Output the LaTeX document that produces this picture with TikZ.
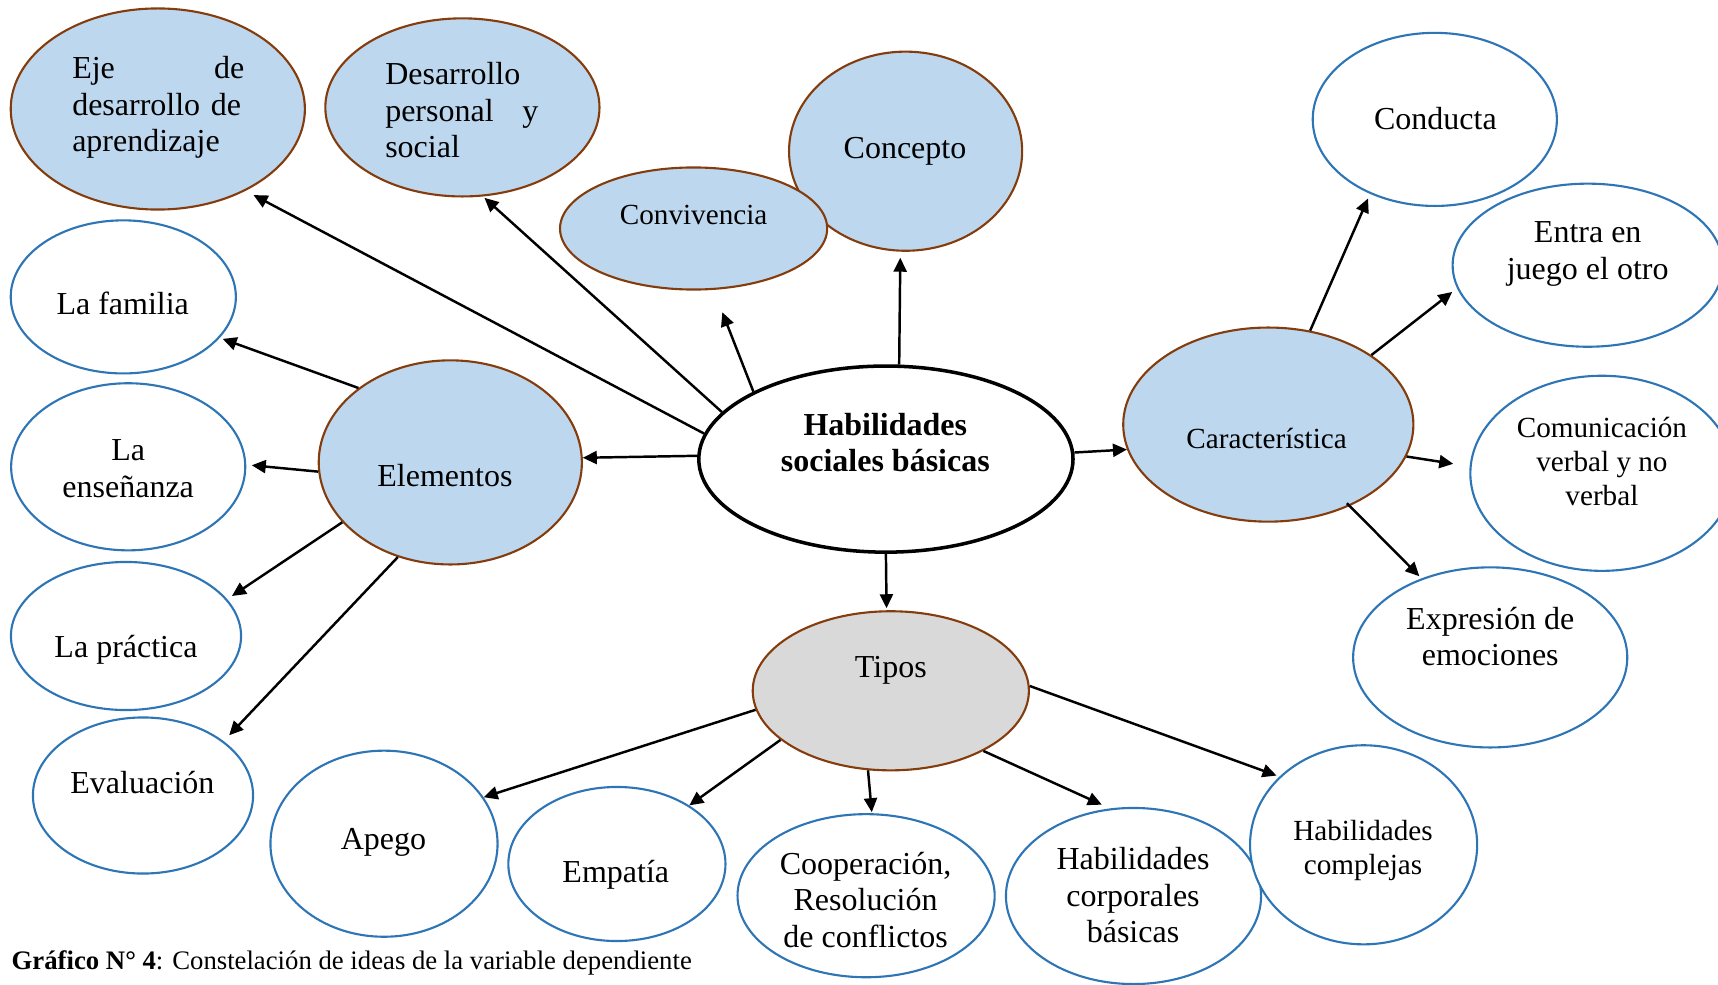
\documentclass[tikz,border=0pt]{standalone}
\usepackage{fontspec}
\setmainfont{Liberation Serif}
\usetikzlibrary{shapes.geometric,arrows.meta}
\definecolor{bluefill}{RGB}{189,215,238}
\definecolor{brownline}{RGB}{132,60,12}
\definecolor{blueline}{RGB}{46,117,182}
\definecolor{grayfill}{RGB}{217,217,217}
\newcommand\mainsize{\fontsize{9.1}{10.4}\selectfont}
\newcommand\smallsize{\fontsize{8.3}{9.6}\selectfont}
\newcommand\capsize{\fontsize{7.6}{8.8}\selectfont}
\tikzset{
  bub/.style={ellipse, inner sep=0pt, line width=0.6pt},
  blue bub/.style={bub, draw=brownline, fill=bluefill},
  gray bub/.style={bub, draw=brownline, fill=grayfill},
  white bub/.style={bub, draw=blueline, fill=white},
  txt/.style={inner sep=0pt, align=center, font=\mainsize},
  arr/.style={-{Triangle[length=0.14cm,width=0.13cm]}, line width=0.7pt},
}
\begin{document}
\begin{tikzpicture}[x=0.01cm,y=-0.01cm]
 \useasboundingbox (0,0) rectangle (1718,985);
 \clip (0,0) rectangle (1718,985);
 % upper row
 \node[blue bub, minimum width=2.94cm, minimum height=2.01cm] (eje) at (157.8,109) {};
 \node[blue bub, minimum width=2.74cm, minimum height=1.78cm] (dps) at (462.4,107.4) {};
 \node[blue bub, minimum width=2.33cm, minimum height=1.99cm] (conc) at (905.6,151.2) {};
 \node[blue bub, minimum width=2.67cm, minimum height=1.22cm] (conv) at (693.6,228.5) {};
 \node[txt, text width=1.72cm, align=left] (eje-t) at (158.3,107.4) {Eje\hfill de\\desarrollo de\\aprendizaje};
 \node[txt, text width=1.53cm, align=left] (dps-t) at (461.8,110.1) {Desarrollo\\personal\hfill y\\social};
 \node[txt] (conc-t) at (905,151) {Concepto};
 \node[txt, font=\smallsize] (conv-t) at (693.6,214.8) {Convivencia};
 % right side
 \node[white bub, minimum width=2.44cm, minimum height=1.73cm] (cond) at (1434.8,119.4) {};
 \node[white bub, minimum width=2.70cm, minimum height=1.63cm] (entra) at (1587.7,265.2) {};
 \node[white bub, minimum width=2.63cm, minimum height=1.95cm] (comu) at (1601.9,473.3) {};
 \node[white bub, minimum width=2.74cm, minimum height=1.80cm] (expr) at (1490.2,657.4) {};
 \node[blue bub, minimum width=2.90cm, minimum height=1.94cm] (car) at (1268.3,424.6) {};
 \node[txt] (cond-t) at (1435.4,118.3) {Conducta};
 \node[txt] (entra-t) at (1587.7,254) {Entra en\\juego el otro};
 \node[txt, font=\smallsize] (comu-t) at (1601.9,461.3) {Comunicación\\verbal y no\\verbal};
 \node[txt] (expr-t) at (1490.2,636.6) {Expresión de\\emociones};
 \node[txt, font=\smallsize] (car-t) at (1266.6,438.3) {Característica};
 % centre
 \node[bub, draw=black, fill=white, line width=1pt, minimum width=3.74cm, minimum height=1.86cm] (hsb) at (885.9,459.1) {};
 \node[txt, font=\mainsize\bfseries] (hsb-t) at (885.3,442.7) {Habilidades\\sociales básicas};
 % left side
 \node[blue bub, minimum width=2.63cm, minimum height=2.04cm] (elem) at (450.3,462.4) {};
 \node[white bub, minimum width=2.25cm, minimum height=1.53cm] (fam) at (123.3,296.9) {};
 \node[white bub, minimum width=2.34cm, minimum height=1.67cm] (ens) at (128.2,466.8) {};
 \node[white bub, minimum width=2.30cm, minimum height=1.48cm] (prac) at (126,636) {};
 \node[white bub, minimum width=2.20cm, minimum height=1.56cm] (eval) at (143,795.5) {};
 \node[txt] (elem-t) at (444.9,475.5) {Elementos};
 \node[txt] (fam-t) at (122.7,303.5) {La familia};
 \node[txt] (ens-t) at (128.2,468.5) {La\\enseñanza};
 \node[txt] (prac-t) at (126,649.5) {La práctica};
 \node[txt] (eval-t) at (142.4,782.3) {Evaluación};
 % bottom row
 \node[gray bub, minimum width=2.76cm, minimum height=1.59cm] (tipos) at (890.8,690.8) {};
 \node[white bub, minimum width=2.27cm, minimum height=1.86cm] (apego) at (384,843.7) {};
 \node[white bub, minimum width=2.17cm, minimum height=1.54cm] (empat) at (616.9,864) {};
 \node[white bub, minimum width=2.57cm, minimum height=1.63cm] (coop) at (866.1,895.7) {};
 \node[white bub, minimum width=2.55cm, minimum height=1.76cm] (hcorp) at (1133.5,896) {};
 \node[white bub, minimum width=2.27cm, minimum height=1.99cm] (hcomp) at (1363.6,844.8) {};
 \node[txt] (tipos-t) at (890.8,670.5) {Tipos};
 \node[txt] (apego-t) at (383.5,842.5) {Apego};
 \node[txt] (empat-t) at (615.8,874.3) {Empatía};
 \node[txt] (coop-t) at (865.6,899.6) {Cooperación,\\Resolución\\de conflictos};
 \node[txt] (hcorp-t) at (1133,895.2) {Habilidades\\corporales\\básicas};
 \node[txt, font=\smallsize] (hcomp-t) at (1363,850.5) {Habilidades\\complejas};
 % arrows
 \draw[arr, shorten >=0.09cm] (hsb.172.6) -- (eje.-43.8);
 \draw[arr, shorten >=0.02cm] (hsb.164.3) -- (dps.-77.6);
 \draw[arr, shorten >=0.24cm] (hsb.153) -- (conv.-72.4);
 \draw[arr, shorten >=0.06cm] (hsb.82.3) -- (conc.-93.9);
 \draw[arr] (hsb.2.7) -- (car.190.3);
 \draw[arr] (hsb.179.7) -- (elem.2.5);
 \draw[arr, shorten >=0.02cm] (hsb.-90.4) -- (tipos.93.9);
 \draw[arr, shorten >=0.05cm] (car.66) -- (cond.229.1);
 \draw[arr, shorten >=0.06cm] (car.34.5) -- (entra.190.1);
 \draw[arr, shorten >=0.165cm] (car.-13.8) -- (comu.177.5);
 \draw[arr, shorten >=0.03cm, shorten <=-0.04cm] (car.-45.8) -- (expr.131.7);
 \draw[arr, shorten >=0.03cm] (elem.141.3) -- (fam.-23.8);
 \draw[arr, shorten >=0.055cm] (elem.184.3) -- (ens.1);
 \draw[arr, shorten >=0.057cm] (elem.209.2) -- (prac.20.2);
 \draw[arr, shorten >=0.08cm] (elem.241.9) -- (eval.34.9);
 \draw[arr] (tipos.188.3) -- (apego.25.6);
 \draw[arr] (tipos.204.5) -- (empat.39.4);
 \draw[arr, shorten >=0.01cm] (tipos.254.9) -- (coop.86.5);
 \draw[arr, shorten >=0.09cm] (tipos.-33.8) -- (hcorp.105.2);
 \draw[arr, shorten >=0.03cm] (tipos.2.5) -- (hcomp.141.3);
 % caption
 \node[anchor=base west, inner sep=0pt, font=\capsize] (cap) at (11,969.7) {\textbf{Gráfico N° 4}: Constelación de ideas de la variable dependiente};
\end{tikzpicture}
\end{document}
